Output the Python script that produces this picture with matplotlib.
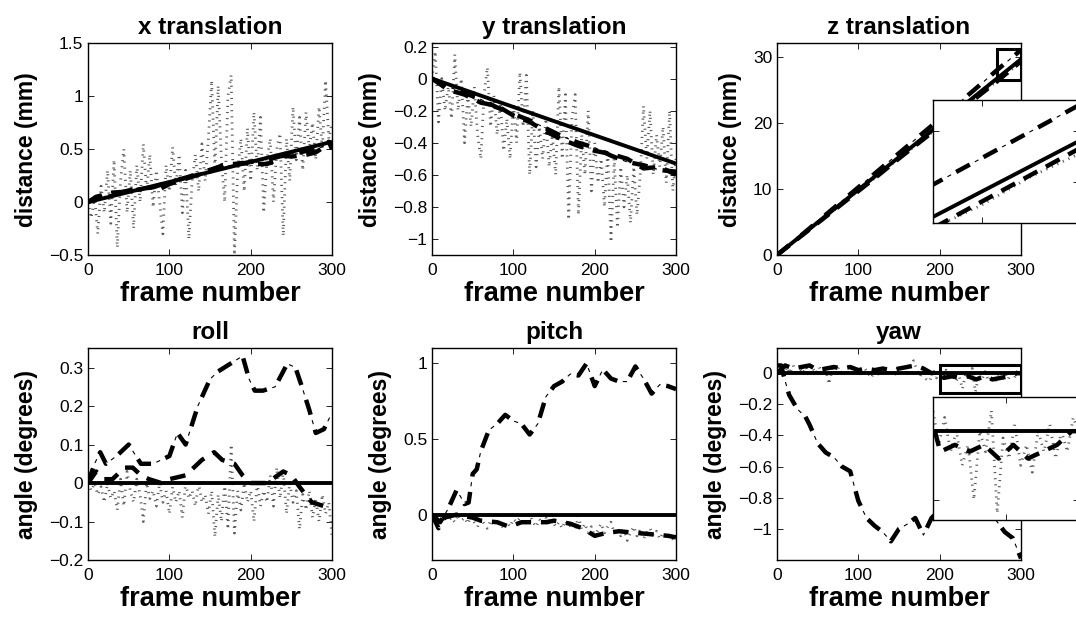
import numpy as np
import matplotlib
matplotlib.use("Agg")
from matplotlib import pyplot as plt
from matplotlib.patches import Rectangle

plt.rcParams['font.family'] = ['Liberation Sans', 'DejaVu Sans']

# noisy series are sampled every 4 frames
noisy_frames = np.arange(0, 301, 4)

# ---- x translation (mm)
x_solid_f = [0, 300]
x_solid = [0.0, 0.57]
x_dash_f = [0, 10, 20, 30, 50, 70, 80, 90, 100, 120, 140, 150, 160, 170, 180, 190, 200, 210, 220, 230, 240, 250, 260, 270, 280, 290, 296, 300]
x_dash = [0.0, 0.05, 0.07, 0.09, 0.10, 0.13, 0.14, 0.13, 0.17, 0.22, 0.27, 0.29, 0.33, 0.36, 0.36, 0.37, 0.36, 0.36, 0.36, 0.39, 0.44, 0.43, 0.44, 0.45, 0.47, 0.52, 0.57, 0.50]
x_dd_f = [0, 20, 40, 60, 80, 100, 120, 140, 160, 180, 200, 220, 240, 260, 280, 300]
x_dd = [0.0, 0.06, 0.09, 0.13, 0.14, 0.19, 0.23, 0.28, 0.33, 0.35, 0.38, 0.40, 0.44, 0.47, 0.50, 0.56]
x_noisy = [0.0, -0.15, 0.05, -0.3, 0.15, -0.1, 0.3, -0.2, 0.4, -0.43,
           0.2, 0.5, -0.1, 0.3, -0.25, 0.35, 0.0, 0.55, 0.1, 0.45,
           -0.05, 0.3, 0.0, -0.3, 0.35, 0.1, 0.52, 0.15, 0.45, -0.1,
           0.3, -0.35, 0.2, 0.45, 0.1, 0.55, 0.2, 0.6, 1.15, 0.3,
           1.1, 0.4, 0.0, 1.0, 1.2, -0.5, 0.3, 0.6, 0.1, 0.7,
           0.2, 0.85, 0.3, 0.8, -0.1, 0.4, 0.6, 0.0, 0.5, 0.65,
           -0.32, 0.6, 0.2, 0.9, 0.4, 0.8, 0.3, 0.85, 0.5, 0.75,
           0.4, 0.9, 0.5, 1.15, 0.6, 0.75]

# ---- y translation (mm)
y_solid_f = [0, 300]
y_solid = [0.0, -0.53]
y_dash_f = [0, 20, 40, 60, 80, 100, 120, 140, 160, 180, 200, 220, 240, 260, 280, 300]
y_dash = [0.0, -0.07, -0.10, -0.15, -0.17, -0.23, -0.27, -0.33, -0.38, -0.42, -0.45, -0.47, -0.50, -0.56, -0.55, -0.60]
y_dd_f = [0, 20, 40, 60, 80, 100, 120, 140, 160, 180, 200, 220, 240, 260, 280, 300]
y_dd = [0.0, -0.05, -0.09, -0.13, -0.18, -0.22, -0.26, -0.31, -0.36, -0.40, -0.43, -0.48, -0.52, -0.54, -0.57, -0.58]
y_noisy = [0.0, 0.17, -0.27, 0.0, -0.2, -0.05, -0.25, 0.15, -0.2, 0.0,
           -0.4, -0.1, -0.3, -0.05, -0.35, -0.5, -0.1, 0.07, -0.3, -0.1,
           -0.35, -0.15, -0.45, -0.25, -0.5, -0.15, -0.4, 0.04, -0.3, 0.02,
           -0.6, -0.2, -0.55, -0.3, -0.5, -0.25, -0.55, -0.35, -0.6, -0.05,
           -0.5, -0.1, -0.88, -0.25, -0.1, -0.85, -0.35, -0.6, -0.2, -0.7,
           -0.4, -0.65, -0.5, -0.8, -0.45, -1.02, -0.5, -0.93, -0.55, -0.8,
           -0.6, -0.9, -0.55, -0.85, -0.6, -0.17, -0.5, -0.2, -0.6, -0.35,
           -0.55, -0.3, -0.65, -0.2, -0.7, -0.5]

# ---- z translation (mm)
z_solid_f = [0, 300]
z_solid = [0.0, 29.6]
z_f = [0, 30, 60, 90, 120, 150, 180, 210, 240, 270, 300]
z_dash = [0.0, 2.9, 5.8, 8.7, 11.6, 14.6, 17.5, 20.4, 23.3, 26.2, 29.3]
z_dd = [0.0, 3.0, 6.1, 9.2, 12.3, 15.4, 18.5, 21.6, 24.7, 27.9, 31.0]
z_noisy_f = np.arange(0, 301, 10)
z_noisy = [0.0, 1.0, 1.9, 2.9, 3.9, 4.8, 5.8, 6.8, 7.7, 8.8, 9.7,
           10.7, 11.6, 12.7, 13.6, 14.6, 15.5, 16.6, 17.5, 18.5, 19.4,
           20.5, 21.4, 22.4, 23.3, 24.4, 25.3, 26.2, 27.1, 28.2, 29.1]

# ---- roll (degrees)
roll_dd_f = [0, 8, 15, 22, 35, 50, 65, 80, 90, 100, 110, 120, 135, 150, 160, 175, 190, 198, 205, 215, 230, 245, 255, 263, 272, 280, 290, 297]
roll_dd = [0.0, 0.05, 0.08, 0.05, 0.07, 0.10, 0.05, 0.05, 0.06, 0.07, 0.13, 0.10, 0.20, 0.27, 0.29, 0.31, 0.33, 0.27, 0.24, 0.24, 0.25, 0.31, 0.30, 0.25, 0.19, 0.13, 0.14, 0.17]
roll_dash_f = [0, 10, 20, 30, 45, 55, 65, 75, 90, 100, 120, 140, 155, 165, 180, 190, 200, 220, 240, 250, 260, 275, 290, 300]
roll_dash = [0.0, 0.03, 0.01, 0.01, 0.04, 0.04, 0.02, 0.01, 0.0, 0.01, 0.02, 0.06, 0.08, 0.06, 0.05, 0.02, 0.0, 0.0, 0.03, 0.02, -0.01, -0.05, -0.06, -0.07]
roll_noisy = [0.0, -0.02, 0.0, -0.03, -0.01, -0.05, 0.0, -0.04, -0.02, -0.07,
              0.01, -0.06, 0.03, -0.02, -0.05, 0.01, -0.03, -0.1, 0.0, -0.04,
              -0.02, -0.06, 0.0, -0.05, -0.02, -0.08, -0.01, -0.05, -0.02, -0.09,
              0.0, -0.04, -0.02, -0.06, 0.0, -0.05, -0.03, -0.08, -0.02, -0.14,
              -0.03, -0.1, 0.0, -0.12, 0.1, -0.13, -0.02, -0.07, 0.0, -0.05,
              -0.02, -0.1, 0.0, -0.06, -0.02, -0.05, 0.02, -0.06, 0.04, -0.04,
              0.03, -0.08, 0.0, -0.05, -0.02, -0.12, -0.03, -0.07, -0.02, -0.09,
              -0.04, -0.1, -0.03, -0.08, -0.05, -0.14]

# ---- pitch (degrees)
pitch_dd_f = [0, 10, 20, 25, 30, 35, 40, 45, 50, 55, 60, 70, 80, 90, 100, 110, 120, 130, 140, 150, 160, 170, 180, 190, 200, 210, 220, 230, 240, 250, 260, 270, 280, 290, 300]
pitch_dd = [0.0, -0.05, 0.04, 0.10, 0.16, 0.12, 0.07, 0.08, 0.27, 0.30, 0.42, 0.56, 0.60, 0.66, 0.62, 0.60, 0.53, 0.60, 0.78, 0.85, 0.88, 0.93, 0.92, 1.0, 0.85, 0.96, 0.90, 0.88, 0.88, 0.98, 0.90, 0.80, 0.86, 0.85, 0.83]
pitch_dash_f = [0, 8, 15, 30, 40, 50, 60, 80, 95, 110, 125, 140, 150, 170, 185, 200, 215, 230, 250, 270, 290, 300]
pitch_dash = [0.0, -0.09, -0.02, 0.0, -0.01, -0.02, -0.04, -0.05, -0.08, -0.05, -0.05, -0.05, -0.04, -0.06, -0.09, -0.14, -0.12, -0.11, -0.12, -0.13, -0.14, -0.15]
pitch_noisy = [0.0, -0.05, -0.02, -0.06, -0.01, -0.04, -0.02, -0.05, 0.0, -0.04,
               -0.02, -0.06, -0.01, -0.05, -0.08, -0.03, -0.06, -0.09, -0.04, -0.07,
               -0.03, -0.06, -0.09, -0.05, -0.08, -0.03, -0.05, -0.02, -0.06, -0.04,
               0.0, -0.05, -0.08, -0.03, -0.06, -0.02, -0.07, -0.04, -0.08, -0.05,
               -0.09, -0.04, -0.08, -0.06, -0.1, -0.01, -0.1, -0.06, -0.12, -0.08,
               -0.15, -0.1, -0.06, -0.12, -0.08, -0.05, -0.12, -0.09, -0.14, -0.1,
               -0.17, -0.12, -0.08, -0.14, -0.1, -0.16, -0.12, -0.09, -0.14, -0.11,
               -0.16, -0.12, -0.15, -0.13, -0.16, -0.15]

# ---- yaw (degrees)
yaw_dd_f = [0, 5, 10, 15, 25, 35, 40, 50, 60, 70, 80, 90, 100, 110, 120, 130, 140, 150, 160, 170, 180, 190, 200, 215, 230, 245, 260, 270, 280, 290, 300]
yaw_dd = [0.05, 0.05, -0.05, -0.14, -0.23, -0.28, -0.33, -0.45, -0.51, -0.54, -0.60, -0.63, -0.82, -0.93, -0.98, -1.02, -1.08, -1.0, -0.97, -0.93, -1.04, -0.93, -0.88, -0.86, -0.90, -0.88, -0.90, -0.95, -1.02, -1.06, -1.19]
yaw_dash_f = [0, 10, 20, 30, 40, 50, 60, 70, 80, 90, 100, 110, 120, 130, 140, 150, 160, 170, 180, 190, 200, 205, 215, 225, 235, 245, 255, 265, 275, 285, 295, 300]
yaw_dash = [0.0, 0.05, 0.03, 0.04, 0.05, 0.02, 0.03, 0.04, 0.03, 0.04, 0.02, 0.03, 0.02, 0.03, 0.02, 0.03, 0.04, 0.05, 0.03, 0.0, 0.01, -0.03, -0.02, -0.03, -0.02, -0.04, -0.02, -0.04, -0.03, -0.02, 0.0, 0.0]
yaw_noisy = [0.0, 0.03, -0.01, 0.04, 0.0, 0.05, -0.01, 0.03, 0.0, 0.04,
             -0.02, 0.03, 0.0, 0.04, -0.01, 0.02, -0.07, 0.03, 0.0, 0.04,
             -0.01, 0.02, 0.0, 0.03, -0.01, 0.02, -0.02, 0.03, 0.0, -0.03,
             0.02, 0.0, -0.02, 0.03, 0.0, 0.02, -0.02, 0.03, 0.0, 0.04,
             -0.01, 0.05, 0.08, 0.02, -0.02, 0.03, -0.04, -0.05, 0.02, -0.03,
             0.03, -0.02, 0.02, -0.03, 0.0, -0.05, -0.02, -0.1, 0.0, -0.03,
             0.03, -0.12, -0.01, -0.04, 0.01, -0.05, -0.02, -0.06, 0.0, -0.03,
             0.01, -0.04, 0.0, -0.03, 0.02, 0.0]


def solid(ax, f, v):
    ax.plot(f, v, '-', color='k', lw=2.8, solid_capstyle='butt', zorder=4)

def dashed(ax, f, v):
    ax.plot(f, v, color='k', lw=3.2, linestyle=(0, (3.5, 2.2)), dash_capstyle='butt', zorder=3)

def dashdot(ax, f, v):
    # thick dashes with a thin tick in every gap (matlab-like '-.')
    ax.plot(f, v, color='k', lw=0.8, linestyle=(8.9, (3.75, 24.25)), dash_capstyle='butt', zorder=3)
    ax.plot(f, v, color='k', lw=3.2, linestyle=(0, (3.5, 3.5)), dash_capstyle='butt', zorder=3)

def noisy(ax, f, v):
    # short fat dashes -> columns of little horizontal strokes on steep segments
    ax.plot(f, v, color='0.35', lw=2.0, linestyle=(0, (0.4, 1.8)), dash_capstyle='butt', zorder=2)

def style(ax, title=None, ylabel=None, labels=True):
    ax.tick_params(direction='in', top=True, right=True, length=4, width=0.6,
                   labelsize=12.5)
    ax.tick_params(axis='x', pad=6)
    for s in ax.spines.values():
        s.set_linewidth(1.0)
    if not labels:
        ax.set_xticklabels([])
        ax.set_yticklabels([])
        return
    ax.set_xlim(0, 300)
    ax.set_xticks([0, 100, 200, 300])
    ax.set_title(title, fontsize=17.5, fontweight='bold', pad=7)
    ax.set_xlabel('frame number', fontsize=19.5, fontweight='bold', labelpad=2)
    ax.set_ylabel(ylabel, fontsize=16.5, fontweight='bold', labelpad=8)

fig = plt.figure(figsize=(10.76, 6.19), dpi=100)
lefts = [0.0818, 0.4015, 0.7221]
bottoms = [0.588, 0.0953]
w, h = 0.2268, 0.342
axes = [[fig.add_axes([l, b, w, h]) for l in lefts] for b in bottoms]

# x translation
ax = axes[0][0]
noisy(ax, noisy_frames, x_noisy)
dashdot(ax, x_dd_f, x_dd)
dashed(ax, x_dash_f, x_dash)
solid(ax, x_solid_f, x_solid)
ax.set_ylim(-0.5, 1.5)
ax.set_yticks([-0.5, 0, 0.5, 1, 1.5])
ax.set_yticklabels(['\u22120.5', '0', '0.5', '1', '1.5'])
style(ax, 'x translation', 'distance (mm)')

# y translation
ax = axes[0][1]
noisy(ax, noisy_frames, y_noisy)
dashdot(ax, y_dd_f, y_dd)
dashed(ax, y_dash_f, y_dash)
solid(ax, y_solid_f, y_solid)
ax.set_ylim(-1.1, 0.22)
ax.set_yticks([-1, -0.8, -0.6, -0.4, -0.2, 0, 0.2])
ax.set_yticklabels(['\u22121', '\u22120.8', '\u22120.6', '\u22120.4', '\u22120.2', '0', '0.2'])
style(ax, 'y translation', 'distance (mm)')

# z translation
zbox = (270, 300, 26.4, 31.2)
ax = axes[0][2]
noisy(ax, z_noisy_f, z_noisy)
dashdot(ax, z_f, z_dd)
dashed(ax, z_f, z_dash)
solid(ax, z_solid_f, z_solid)
ax.set_ylim(0, 32)
ax.set_yticks([0, 10, 20, 30])
style(ax, 'z translation', 'distance (mm)')
ax.add_patch(Rectangle((zbox[0], zbox[2]), zbox[1] - zbox[0], zbox[3] - zbox[2],
                       fill=False, lw=2.2, ec='k', zorder=6))
ins = fig.add_axes([0.8671, 0.6397, 0.1357, 0.1987])
noisy(ins, z_noisy_f, z_noisy)
dashdot(ins, z_f, z_dd)
dashed(ins, z_f, z_dash)
solid(ins, z_solid_f, z_solid)
ins.set_xlim(zbox[0], zbox[1])
ins.set_ylim(zbox[2], zbox[3])
style(ins, labels=False)

# roll
ax = axes[1][0]
noisy(ax, noisy_frames, roll_noisy)
dashdot(ax, roll_dd_f, roll_dd)
dashed(ax, roll_dash_f, roll_dash)
solid(ax, [0, 300], [0, 0])
ax.set_ylim(-0.2, 0.35)
ax.set_yticks([-0.2, -0.1, 0, 0.1, 0.2, 0.3])
ax.set_yticklabels(['\u22120.2', '\u22120.1', '0', '0.1', '0.2', '0.3'])
style(ax, 'roll', 'angle (degrees)')

# pitch
ax = axes[1][1]
noisy(ax, noisy_frames, pitch_noisy)
dashdot(ax, pitch_dd_f, pitch_dd)
dashed(ax, pitch_dash_f, pitch_dash)
solid(ax, [0, 300], [0, 0])
ax.set_ylim(-0.3, 1.1)
ax.set_yticks([0, 0.5, 1])
ax.set_yticklabels(['0', '0.5', '1'])
style(ax, 'pitch', 'angle (degrees)')

# yaw
ybox = (200, 300, -0.13, 0.05)
ax = axes[1][2]
noisy(ax, noisy_frames, yaw_noisy)
dashdot(ax, yaw_dd_f, yaw_dd)
dashed(ax, yaw_dash_f, yaw_dash)
solid(ax, [0, 300], [0, 0])
ax.set_ylim(-1.2, 0.16)
ax.set_yticks([-1, -0.8, -0.6, -0.4, -0.2, 0])
ax.set_yticklabels(['\u22121', '\u22120.8', '\u22120.6', '\u22120.4', '\u22120.2', '0'])
style(ax, 'yaw', 'angle (degrees)')
ax.add_patch(Rectangle((ybox[0], ybox[2]), ybox[1] - ybox[0], ybox[3] - ybox[2],
                       fill=False, lw=2.2, ec='k', zorder=6))
ins = fig.add_axes([0.8671, 0.1599, 0.1357, 0.1987])
noisy(ins, noisy_frames, yaw_noisy)
dashdot(ins, yaw_dd_f, yaw_dd)
dashed(ins, yaw_dash_f, yaw_dash)
solid(ins, [0, 300], [0, 0])
ins.set_xlim(ybox[0], ybox[1])
ins.set_ylim(ybox[2], ybox[3])
style(ins, labels=False)

fig.savefig('out.png', dpi=100)
